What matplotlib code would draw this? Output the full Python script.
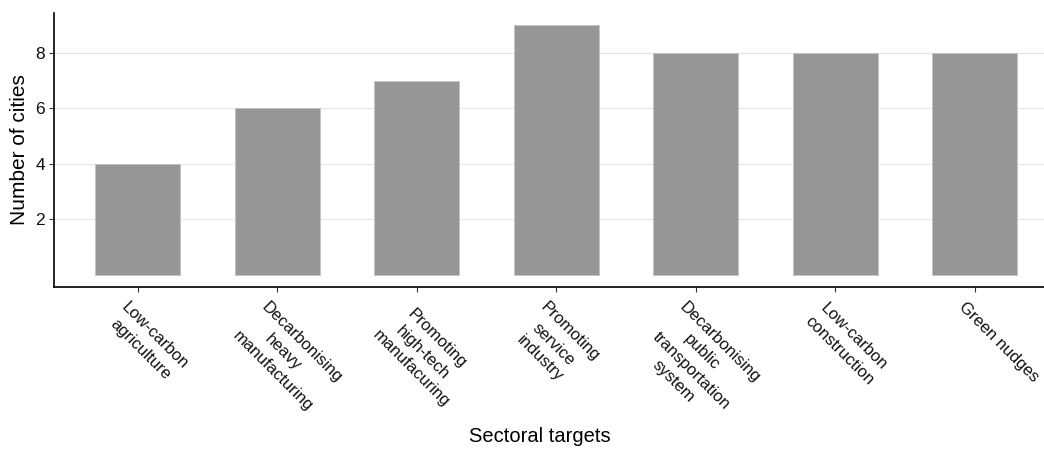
import numpy as np
import matplotlib.pyplot as plt

plt.rcParams['font.family'] = ['Liberation Sans', 'DejaVu Sans']

# dados
targets = ['Low-carbon\nagriculture', 'Decarbonising\nheavy\nmanufacturing',
           'Promoting\nhigh-tech\nmanufacuring', 'Promoting\nservice\nindustry',
           'Decarbonising\npublic\ntransportation\nsystem', 'Low-carbon\nconstruction',
           'Green nudges']
n_cities = [4, 6, 7, 9, 8, 8, 8]
y_ticks = [2, 4, 6, 8]

W, H = 1044, 449
fig = plt.figure(figsize=(W / 100, H / 100), dpi=100)
# eixo mais largo que a figura (o original está cortado à direita)
ax = fig.add_axes([54 / W, (H - 287) / H, 1004.4 / W, 274 / H])

x = np.arange(len(targets))
ax.bar(x, n_cities, width=0.61, color='#969696', edgecolor='#c4c4c4', linewidth=0.6, zorder=2)

ax.set_xlim(-0.6, len(targets) - 1 + 0.6)
ax.set_ylim(-0.45, 9.45)
ax.set_yticks(y_ticks)
ax.set_yticklabels([str(v) for v in y_ticks], fontsize=12.5)
ax.set_xticks(x)
ax.set_xticklabels([])
ax.grid(axis='y', color='#e6e6e6', linewidth=0.8, zorder=0)
ax.set_axisbelow(True)

for s in ['top', 'right']:
    ax.spines[s].set_visible(False)
for s in ['left', 'bottom']:
    ax.spines[s].set_linewidth(1.2)
    ax.spines[s].set_color('black')
ax.tick_params(axis='both', length=3.5, width=0.8, color='#333333', labelcolor='#111111', pad=3)

# rótulos do eixo x rotacionados, uma linha de cada vez
fs = 12
frac = 0.4            # alinhamento entre esquerda (0) e centro (0.5)
ls = 14.5             # espaçamento entre linhas (pt)
base = (-12.0, -15.0)  # início da linha de base da 1a linha, relativo ao tick (pt)
u = np.array([0.7071, -0.7071])   # direção do texto
v = np.array([-0.7071, -0.7071])  # próxima linha

renderer = fig.canvas.get_renderer()
for xi, lab in zip(x, targets):
    lines = lab.split('\n')
    widths = []
    for ln in lines:
        t = fig.text(0, 0, ln, fontsize=fs)
        widths.append(t.get_window_extent(renderer).width * 72 / fig.dpi)
        t.remove()
    wmax = max(widths)
    for i, (ln, w) in enumerate(zip(lines, widths)):
        off = np.array(base) + i * ls * v + frac * (wmax - w) * u
        ax.annotate(ln, xy=(xi, 0), xycoords=('data', 'axes fraction'),
                    xytext=tuple(off), textcoords='offset points',
                    rotation=-45, rotation_mode='anchor', ha='left', va='baseline',
                    fontsize=fs, color='#111111')

fig.text(540 / W, 1 - 437 / H, 'Sectoral targets', ha='center', va='center', fontsize=14.5)
fig.text(20 / W, 1 - 150 / H, 'Number of cities', ha='center', va='center',
         rotation=90, fontsize=15)

fig.savefig('out.png', dpi=100)
